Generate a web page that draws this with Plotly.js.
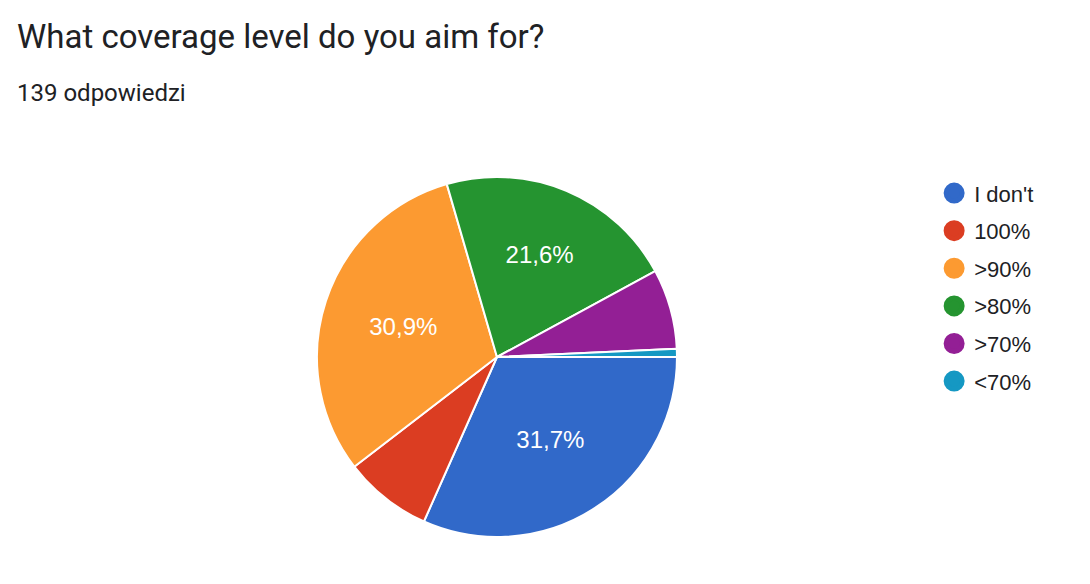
<!DOCTYPE html>
<html>
<head>
<meta charset="utf-8">
<script src="https://cdn.plot.ly/plotly-3.0.1.min.js"></script>
<style>
  html, body { margin: 0; padding: 0; background: #fff; }
  #chart { width: 1090px; height: 584px; }
</style>
</head>
<body>
<div id="chart"></div>
<script>
var labels = ["I don't", '100%', '>90%', '>80%', '>70%', '<70%'];
var counts = [44, 11, 43, 30, 10, 1];
var colors = ['#3169c9', '#db3d22', '#fc9a31', '#259430', '#931f95', '#1598c3'];

var total = counts.reduce(function (a, b) { return a + b; }, 0);
// google only writes the percentage on bigger slices
var templates = counts.map(function (v) {
  return v / total >= 0.1 ? '%{percent:.1%}' : '';
});

var arial = '"Liberation Sans", Arial, sans-serif';

var pie = {
  type: 'pie',
  labels: labels,
  values: counts,
  marker: { colors: colors, line: { color: '#ffffff', width: 2 } },
  sort: false,
  direction: 'clockwise',
  rotation: 90,
  texttemplate: templates,
  textposition: 'inside',
  insidetextorientation: 'horizontal',
  textfont: { color: '#ffffff', size: 24, family: arial },
  hoverinfo: 'label+value+percent',
  showlegend: false,
  domain: { x: [0.2908, 0.6211], y: [0.0805, 0.6969] }
};

// legend entries with round markers
var legendTraces = labels.map(function (lab, i) {
  return {
    type: 'scatter',
    mode: 'markers',
    x: [null],
    y: [null],
    name: lab,
    legendgroup: 'g' + i,
    marker: { color: colors[i], size: 16, symbol: 'circle', line: { color: colors[i], width: 5 } },
    hoverinfo: 'skip'
  };
});

var layout = {
  width: 1090,
  height: 584,
  margin: { l: 0, r: 0, t: 0, b: 0 },
  paper_bgcolor: '#ffffff',
  plot_bgcolor: '#ffffff',
  separators: ',.',
  font: { family: 'Roboto, Arial, sans-serif', color: '#202124' },
  xaxis: { visible: false, domain: [0.99, 1] },
  yaxis: { visible: false, domain: [0.99, 1] },
  showlegend: true,
  legend: {
    x: 0.857,
    xanchor: 'left',
    y: 0.705,
    yanchor: 'top',
    font: { size: 22, color: '#202124', family: arial },
    tracegroupgap: 6,
    itemsizing: 'trace'
  },
  annotations: [
    {
      text: 'What coverage level do you aim for?',
      xref: 'paper', yref: 'paper',
      x: 15 / 1090, y: 1 - 37 / 584,
      xanchor: 'left', yanchor: 'middle',
      showarrow: false,
      font: { size: 33, color: '#202124' }
    },
    {
      text: total + ' odpowiedzi',
      xref: 'paper', yref: 'paper',
      x: 15 / 1090, y: 1 - 93 / 584,
      xanchor: 'left', yanchor: 'middle',
      showarrow: false,
      font: { size: 24, color: '#202124' }
    }
  ]
};

Plotly.newPlot('chart', [pie].concat(legendTraces), layout, { displayModeBar: false, staticPlot: true });
</script>
</body>
</html>
